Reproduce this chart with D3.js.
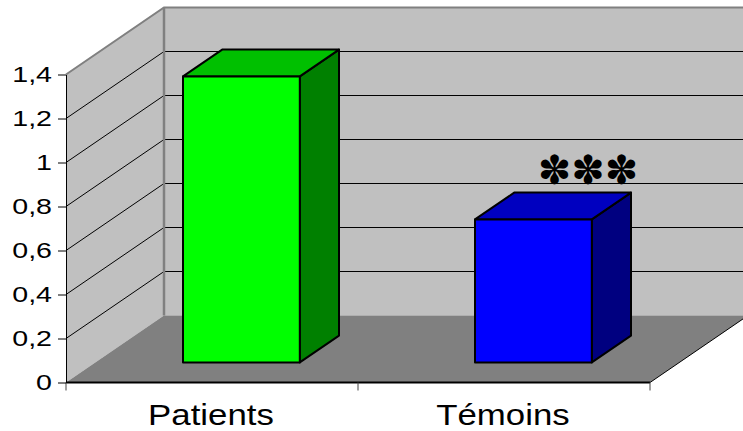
<!DOCTYPE html>
<html><head><meta charset="utf-8">
<script src="https://cdn.jsdelivr.net/npm/d3@7"></script>
<style>body{margin:0;background:#fff;overflow:hidden}</style>
</head><body><svg id="c" width="743" height="431"></svg>
<script>
// ---- data ----
const categories = ["Patients", "Témoins"];
const values = [1.30, 0.65];
const tickValues = [0, 0.2, 0.4, 0.6, 0.8, 1, 1.2, 1.4];
const tickLabels = ["0", "0,2", "0,4", "0,6", "0,8", "1", "1,2", "1,4"];
const gridValues = [0.2, 0.4, 0.6, 0.8, 1, 1.2];
const significance = ["", "✽✽✽"];

// ---- styles ----
const frontColors = ["#00FF00", "#0000FF"];
const topColors = ["#00C000", "#0000C0"];
const sideColors = ["#008000", "#000080"];

const svg = d3.select("#c");
const X0 = 66, X1 = 650, Y0 = 382.5, Y1 = 74.5, DX = 98, DY = -67;
const y = d3.scaleLinear().domain([0, 1.4]).range([Y0, Y1]);
const x = d3.scaleBand().domain(categories).range([X0, X1]).paddingInner(0.6).paddingOuter(0.3);
const P = (px, v, f) => [px + f * DX, y(v) + f * DY];
const pts = a => a.map(p => p.join(",")).join(" ");

// back wall
svg.append("polygon").attr("points", pts([P(X0,0,1), P(X0,1.4,1), P(X1,1.4,1), P(X1,0,1)]))
  .attr("fill", "#C0C0C0");
// side wall
svg.append("polygon").attr("points", pts([P(X0,0,0), P(X0,1.4,0), P(X0,1.4,1), P(X0,0,1)]))
  .attr("fill", "#C0C0C0");
// floor
svg.append("polygon").attr("points", pts([P(X0,0,0), P(X1,0,0), P(X1,0,1), P(X0,0,1)]))
  .attr("fill", "#808080");

// gridlines
svg.append("g").selectAll("polyline").data(gridValues).join("polyline")
  .attr("points", v => pts([P(X0,v,0), P(X0,v,1), P(X1,v,1)]))
  .attr("fill", "none").attr("stroke", "#000").attr("stroke-width", 1);

// wall borders
svg.append("polyline").attr("points", pts([P(X0,1.4,0), P(X0,1.4,1), P(X1,1.4,1)]))
  .attr("fill", "none").attr("stroke", "#808080").attr("stroke-width", 2);
svg.append("line").attr("x1", P(X0,0,1)[0]).attr("y1", P(X0,0,1)[1])
  .attr("x2", P(X0,1.4,1)[0]).attr("y2", P(X0,1.4,1)[1])
  .attr("stroke", "#808080").attr("stroke-width", 2.5);

// floor edges
svg.append("line").attr("x1", X1).attr("y1", Y0).attr("x2", P(X1,0,1)[0]).attr("y2", P(X1,0,1)[1])
  .attr("stroke", "#000").attr("stroke-width", 1);
svg.append("line").attr("x1", X0).attr("y1", Y0).attr("x2", X1).attr("y2", Y0)
  .attr("stroke", "#000").attr("stroke-width", 2);

// category ticks
const catTicks = [X0, (X0 + X1) / 2, X1];
svg.append("g").selectAll("line").data(catTicks).join("line")
  .attr("x1", d => d).attr("x2", d => d).attr("y1", Y0).attr("y2", Y0 + 8)
  .attr("stroke", "#444").attr("stroke-width", 1);

// y axis
const yAxis = d3.axisLeft(y).tickValues(tickValues).tickFormat((d, i) => tickLabels[i])
  .tickSize(8).tickSizeOuter(0).tickPadding(6);
const ga = svg.append("g").attr("transform", `translate(${X0},0)`).call(yAxis);
ga.select(".domain").attr("stroke", "#000");
ga.selectAll("text").attr("font-family", "Liberation Sans, Arial, sans-serif")
  .attr("font-size", 22).attr("fill", "#000")
  .each(function() {
    const t = d3.select(this);
    t.attr("textLength", this.getComputedTextLength() * 1.3).attr("lengthAdjust", "spacingAndGlyphs");
  });

// bars
const bw = x.bandwidth();
const fA = 0.3, fB = 0.7;
const bars = svg.append("g").selectAll("g").data(categories).join("g");
bars.each(function(c, i) {
  const g = d3.select(this);
  const bx = x(c), v = values[i];
  const ftl = P(bx, v, fA), ftr = P(bx + bw, v, fA), fbr = P(bx + bw, 0, fA), fbl = P(bx, 0, fA);
  const btl = P(bx, v, fB), btr = P(bx + bw, v, fB), bbr = P(bx + bw, 0, fB);
  const common = s => s.attr("stroke", "#000").attr("stroke-width", 2).attr("stroke-linejoin", "round");
  g.append("polygon").attr("points", pts([ftr, btr, bbr, fbr])).attr("fill", sideColors[i]).call(common);
  g.append("polygon").attr("points", pts([ftl, btl, btr, ftr])).attr("fill", topColors[i]).call(common);
  g.append("polygon").attr("points", pts([ftl, ftr, fbr, fbl])).attr("fill", frontColors[i]).call(common);
});

// significance marks
svg.append("g").selectAll("text").data(categories).join("text")
  .attr("x", (c) => x(c) + bw / 2 + 84)
  .attr("y", 184)
  .attr("text-anchor", "middle")
  .attr("font-family", "DejaVu Sans, sans-serif")
  .attr("font-size", 40)
  .attr("fill", "#000")
  .text((c, i) => significance[i]);

// category labels
svg.append("g").selectAll("text").data(categories).join("text")
  .attr("x", c => x(c) + bw / 2 - 1)
  .attr("y", 425)
  .attr("text-anchor", "middle")
  .attr("font-family", "Liberation Sans, Arial, sans-serif")
  .attr("font-size", 29)
  .attr("fill", "#000")
  .text(c => c)
  .each(function() {
    d3.select(this).attr("textLength", this.getComputedTextLength() * 1.2).attr("lengthAdjust", "spacingAndGlyphs");
  });
</script></body></html>
